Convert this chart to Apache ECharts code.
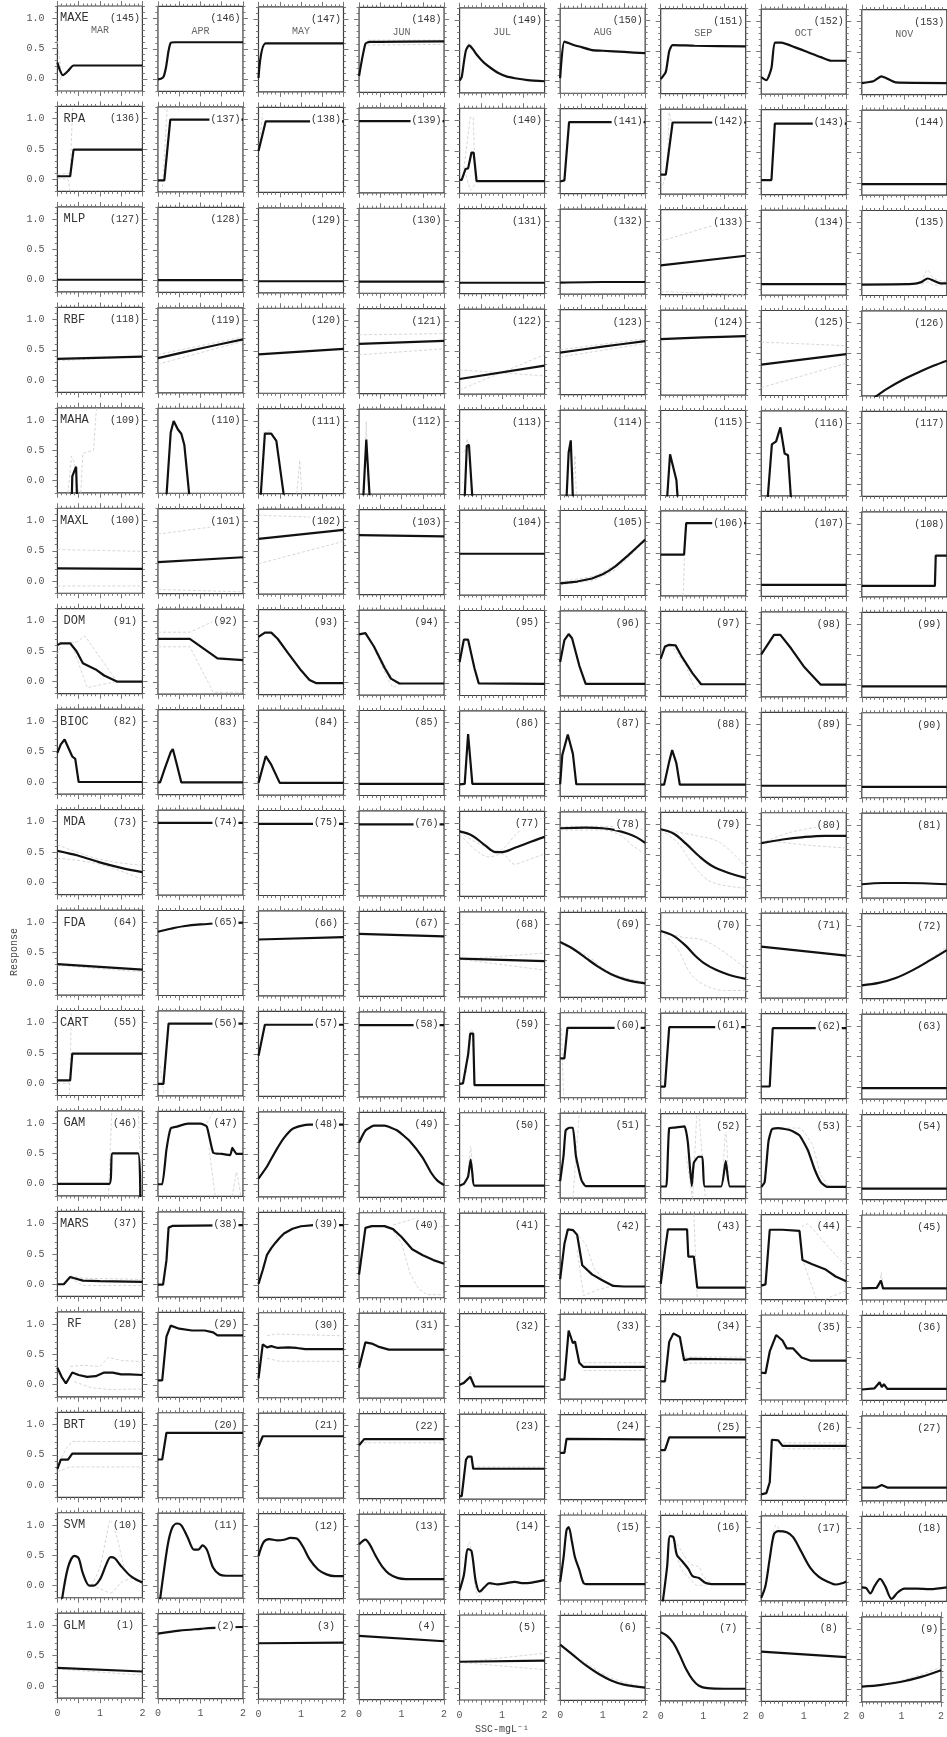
<!DOCTYPE html>
<html>
<head>
<meta charset="utf-8">
<title>Response curves by model and month</title>
<script src="https://cdn.jsdelivr.net/npm/echarts@6/dist/echarts.min.js"></script>
<style>
  html, body { margin: 0; padding: 0; background: #fff; }
  #chart { width: 947px; height: 1737px; }
</style>
</head>
<body>
<div id="chart"></div>
<script>
const MODELS = ['MAXE', 'RPA', 'MLP', 'RBF', 'MAHA', 'MAXL', 'DOM', 'BIOC', 'MDA', 'FDA', 'CART', 'GAM', 'MARS', 'RF', 'BRT', 'SVM', 'GLM']
const MONTHS = ['MAR', 'APR', 'MAY', 'JUN', 'JUL', 'AUG', 'SEP', 'OCT', 'NOV']
const X_TICKS = [0, 0.5, 1, 1.5, 2]
const X_LABELS = [0, 1, 2]
const Y_TICKS = [0, 0.5, 1]

// one curve per month, [SSC, response]
const MAXE = [
  [[0, 0.27], [0.06, 0.14], [0.13, 0.06], [0.25, 0.13], [0.38, 0.22], [2, 0.22]],
  [[0, 0], [0.07, 0.01], [0.13, 0.04], [0.19, 0.2], [0.25, 0.47], [0.3, 0.6], [0.4, 0.61], [2, 0.61]],
  [[0, 0.03], [0.17, 0.6], [2, 0.6]],
  [[0, 0.07], [0.15, 0.6], [0.25, 0.63], [2, 0.64]],
  [[0, 0], [0.05, 0.06], [0.1, 0.3], [0.15, 0.5], [0.22, 0.58], [0.3, 0.53], [0.4, 0.43], [0.5, 0.35], [0.6, 0.28], [0.75, 0.2], [0.9, 0.13], [1.1, 0.07], [1.3, 0.04], [1.6, 0.01], [2, -0.01]],
  [[0, 0.05], [0.1, 0.65], [0.3, 0.6], [0.5, 0.56], [0.75, 0.51], [1, 0.5], [1.5, 0.48], [2, 0.46]],
  [[0, 0.04], [0.12, 0.16], [0.2, 0.5], [0.28, 0.6], [0.8, 0.59], [2, 0.58]],
  [[0, 0.08], [0.12, 0.03], [0.24, 0.23], [0.32, 0.65], [0.47, 0.65], [0.8, 0.57], [1.1, 0.49], [1.4, 0.41], [1.65, 0.35], [2, 0.35]],
  [[0, -0.01], [0.27, 0.02], [0.46, 0.1], [0.58, 0.07], [0.8, 0], [2, -0.01]]
]
const RPA = [
  [[0, 0.05], [0.3, 0.05], [0.38, 0.49], [2, 0.49]],
  [[0, -0.01], [0.15, -0.01], [0.29, 0.99], [2, 0.99]],
  [[0, 0.48], [0.17, 0.97], [2, 0.97]],
  [[0, 0.98], [2, 0.98]],
  [[0, 0.02], [0.05, 0.02], [0.14, 0.2], [0.2, 0.21], [0.28, 0.47], [0.33, 0.47], [0.4, 0], [2, 0]],
  [[0, 0], [0.1, 0.02], [0.21, 0.98], [2, 0.98]],
  [[0, 0.12], [0.12, 0.12], [0.28, 0.98], [2, 0.98]],
  [[0, 0.04], [0.24, 0.04], [0.32, 0.97], [2, 0.97]],
  [[0, -0.02], [2, -0.02]]
]
const MLP = [
  [[0, 0], [2, 0]],
  [[0, 0], [2, 0]],
  [[0, -0.01], [2, -0.01]],
  [[0, -0.01], [2, -0.01]],
  [[0, -0.02], [2, -0.02]],
  [[0, -0.01], [1, 0], [2, 0]],
  [[0, 0.28], [2, 0.44]],
  [[0, -0.02], [2, -0.02]],
  [[0, -0.02], [1.2, -0.01], [1.4, 0.02], [1.55, 0.08], [1.7, 0.04], [1.85, 0], [2, 0]]
]
const RBF = [
  [[0, 0.35], [2, 0.39]],
  [[0, 0.37], [1, 0.53], [2, 0.68]],
  [[0, 0.44], [2, 0.53]],
  [[0, 0.62], [2, 0.67]],
  [[0, 0.05], [2, 0.27]],
  [[0, 0.49], [1, 0.59], [2, 0.68]],
  [[0, 0.72], [1, 0.75], [2, 0.77]],
  [[0, 0.31], [2, 0.48]],
  [[0.25, -0.25], [0.6, -0.08], [1, 0.08], [1.4, 0.21], [1.7, 0.3], [2, 0.38]]
]
const MAHA = [
  [[0.34, -0.25], [0.35, 0.07], [0.44, 0.23], [0.46, -0.25]],
  [[0.2, -0.25], [0.3, 0.8], [0.37, 0.99], [0.47, 0.85], [0.55, 0.78], [0.62, 0.6], [0.74, -0.25]],
  [[0.05, -0.25], [0.15, 0.79], [0.3, 0.79], [0.42, 0.67], [0.6, -0.25]],
  [[0.1, -0.25], [0.17, 0.7], [0.25, -0.25]],
  [[0.12, -0.25], [0.17, 0.6], [0.22, 0.62], [0.3, -0.25]],
  [[0.15, -0.25], [0.2, 0.5], [0.25, 0.7], [0.3, -0.25]],
  [[0.15, -0.25], [0.22, 0.48], [0.37, 0.05], [0.4, -0.25]],
  [[0.15, -0.25], [0.25, 0.65], [0.35, 0.7], [0.45, 0.93], [0.55, 0.5], [0.63, 0.47], [0.7, -0.25]],
  []
]
const MAXL = [
  [[0, 0.21], [2, 0.2]],
  [[0, 0.32], [2, 0.4]],
  [[0, 0.71], [2, 0.86]],
  [[0, 0.78], [2, 0.76]],
  [[0, 0.48], [2, 0.48]],
  [[0, 0], [0.4, 0.03], [0.75, 0.08], [1, 0.15], [1.15, 0.21], [1.3, 0.28], [1.45, 0.37], [1.6, 0.46], [1.8, 0.59], [2, 0.72]],
  [[0, 0.48], [0.55, 0.48], [0.6, 1], [2, 1]],
  [[0, -0.01], [2, -0.01]],
  [[0, -0.02], [1.72, -0.02], [1.74, 0.48], [2, 0.48]]
]
const DOM = [
  [[0, 0.6], [0.08, 0.63], [0.3, 0.63], [0.45, 0.5], [0.6, 0.3], [0.9, 0.2], [1.1, 0.1], [1.4, 0], [2, 0]],
  [[0, 0.71], [0.75, 0.71], [1.4, 0.39], [2, 0.36]],
  [[0, 0.75], [0.15, 0.82], [0.3, 0.82], [0.45, 0.72], [0.7, 0.48], [1, 0.2], [1.2, 0.04], [1.35, -0.01], [2, -0.01]],
  [[0, 0.8], [0.15, 0.82], [0.35, 0.6], [0.6, 0.25], [0.75, 0.07], [0.95, -0.01], [2, -0.01]],
  [[0, 0.35], [0.1, 0.72], [0.2, 0.72], [0.35, 0.25], [0.45, 0], [2, -0.01]],
  [[0, 0.36], [0.1, 0.72], [0.2, 0.82], [0.28, 0.75], [0.45, 0.3], [0.6, 0], [2, 0]],
  [[0, 0.42], [0.1, 0.62], [0.2, 0.65], [0.35, 0.64], [0.5, 0.45], [0.75, 0.18], [0.95, 0], [2, 0]],
  [[0, 0.5], [0.3, 0.82], [0.45, 0.82], [0.7, 0.6], [1, 0.3], [1.4, 0], [2, 0]],
  [[0, -0.02], [2, -0.02]]
]
const BIOC = [
  [[0, 0.48], [0.08, 0.62], [0.17, 0.7], [0.35, 0.42], [0.42, 0.38], [0.5, 0], [2, 0]],
  [[0, 0], [0.05, 0], [0.17, 0.25], [0.3, 0.5], [0.35, 0.55], [0.45, 0.28], [0.55, 0], [2, 0]],
  [[0, 0], [0.17, 0.44], [0.3, 0.3], [0.5, 0], [2, 0]],
  [[0, -0.01], [2, -0.01]],
  [[0, -0.01], [0.12, 0], [0.2, 0.82], [0.3, 0], [2, 0]],
  [[0, 0], [0.05, 0.48], [0.18, 0.82], [0.3, 0.5], [0.38, 0], [2, 0]],
  [[0, 0], [0.08, 0], [0.2, 0.38], [0.27, 0.57], [0.37, 0.35], [0.45, 0], [2, 0]],
  [[0, -0.01], [2, -0.01]],
  [[0, -0.02], [2, -0.02]]
]
const MDA = [
  [[0, 0.52], [0.5, 0.44], [1, 0.33], [1.5, 0.24], [2, 0.17]],
  [[0, 0.99], [2, 0.99]],
  [[0, 0.98], [2, 0.98]],
  [[0, 0.98], [2, 0.98]],
  [[0, 0.87], [0.3, 0.8], [0.6, 0.64], [0.85, 0.53], [1, 0.53], [1.3, 0.6], [1.6, 0.68], [2, 0.78]],
  [[0, 0.93], [0.6, 0.94], [1, 0.93], [1.3, 0.9], [1.6, 0.84], [1.8, 0.78], [2, 0.69]],
  [[0, 0.92], [0.3, 0.85], [0.6, 0.68], [0.9, 0.48], [1.2, 0.32], [1.6, 0.2], [2, 0.12]],
  [[0, 0.7], [0.5, 0.76], [1, 0.8], [1.5, 0.82], [2, 0.82]],
  [[0, 0.03], [0.5, 0.05], [1, 0.05], [2, 0.03]]
]
const FDA = [
  [[0, 0.31], [2, 0.22]],
  [[0, 0.85], [0.3, 0.9], [0.6, 0.94], [1, 0.97], [1.5, 0.99], [2, 1]],
  [[0, 0.73], [2, 0.77]],
  [[0, 0.83], [2, 0.79]],
  [[0, 0.43], [2, 0.39]],
  [[0, 0.71], [0.3, 0.6], [0.6, 0.45], [0.9, 0.3], [1.2, 0.18], [1.5, 0.1], [1.8, 0.05], [2, 0.03]],
  [[0, 0.9], [0.3, 0.82], [0.6, 0.65], [0.8, 0.5], [1, 0.38], [1.3, 0.26], [1.6, 0.18], [2, 0.11]],
  [[0, 0.65], [2, 0.5]],
  [[0, 0.02], [0.4, 0.06], [0.8, 0.14], [1.2, 0.27], [1.6, 0.43], [2, 0.6]]
]
const CART = [
  [[0, 0.05], [0.3, 0.05], [0.35, 0.49], [2, 0.49]],
  [[0, 0], [0.13, 0], [0.25, 0.99], [2, 0.99]],
  [[0, 0.47], [0.15, 0.98], [2, 0.98]],
  [[0, 0.98], [2, 0.98]],
  [[0, 0.02], [0.08, 0.03], [0.2, 0.5], [0.25, 0.85], [0.32, 0.85], [0.35, 0], [2, 0]],
  [[0, 0.45], [0.1, 0.45], [0.17, 0.95], [2, 0.95]],
  [[0, -0.01], [0.1, -0.01], [0.2, 0.97], [2, 0.97]],
  [[0, 0], [0.2, 0], [0.27, 0.96], [2, 0.96]],
  [[0, -0.02], [2, -0.02]]
]
const GAM = [
  [[0, 0], [1.22, 0], [1.3, 0.5], [1.9, 0.5], [1.95, -0.25]],
  [[0, 0], [0.1, 0], [0.2, 0.57], [0.3, 0.92], [0.45, 0.95], [0.7, 1], [1, 1], [1.15, 0.95], [1.3, 0.52], [1.5, 0.5], [1.7, 0.48], [1.75, 0.6], [1.85, 0.5], [2, 0.5]],
  [[0, 0.1], [0.2, 0.3], [0.4, 0.55], [0.6, 0.77], [0.8, 0.92], [1, 0.97], [1.2, 0.99], [2, 0.99]],
  [[0, 0.7], [0.15, 0.9], [0.35, 0.98], [0.6, 0.98], [0.9, 0.9], [1.2, 0.72], [1.5, 0.45], [1.7, 0.2], [1.85, 0.07], [2, 0]],
  [[0, 0], [0.1, 0.03], [0.2, 0.15], [0.26, 0.43], [0.3, 0.2], [0.35, 0], [2, 0]],
  [[0, 0.08], [0.08, 0.5], [0.13, 0.92], [0.22, 0.96], [0.3, 0.96], [0.37, 0.5], [0.5, 0.1], [0.6, 0], [2, 0]],
  [[0, 0], [0.13, 0], [0.2, 0.96], [0.34, 0.97], [0.56, 0.99], [0.64, 0.72], [0.73, 0.01], [0.78, 0.39], [0.89, 0.49], [0.98, 0.49], [1.04, 0], [1.42, 0], [1.53, 0.42], [1.63, 0], [2, 0]],
  [[0, 0], [0.08, 0.08], [0.17, 0.75], [0.25, 0.95], [0.4, 0.97], [0.7, 0.93], [0.9, 0.85], [1.1, 0.6], [1.25, 0.3], [1.4, 0.08], [1.55, 0], [2, 0]],
  [[0, -0.02], [2, -0.02]]
]
const MARS = [
  [[0, 0], [0.15, 0], [0.3, 0.12], [0.4, 0.1], [0.6, 0.06], [1, 0.05], [2, 0.04]],
  [[0, 0], [0.12, 0], [0.2, 0.4], [0.25, 0.94], [0.35, 0.97], [2, 0.98]],
  [[0, 0.02], [0.1, 0.25], [0.2, 0.5], [0.3, 0.61], [0.4, 0.7], [0.5, 0.78], [0.6, 0.85], [0.8, 0.93], [1, 0.97], [1.3, 0.99], [2, 0.99]],
  [[0, 0.18], [0.15, 0.95], [0.3, 0.98], [0.6, 0.98], [0.8, 0.93], [1, 0.8], [1.25, 0.6], [1.5, 0.5], [1.75, 0.42], [2, 0.36]],
  [[0, 0], [2, 0]],
  [[0, 0.12], [0.1, 0.7], [0.18, 0.94], [0.3, 0.93], [0.4, 0.85], [0.52, 0.35], [0.75, 0.2], [1, 0.1], [1.25, 0.01], [1.5, 0], [2, 0]],
  [[0, 0.05], [0.1, 0.6], [0.17, 0.95], [0.45, 0.95], [0.62, 0.95], [0.65, 0.5], [0.78, 0.5], [0.86, -0.01], [2, -0.01]],
  [[0, 0.03], [0.1, 0.05], [0.2, 0.95], [0.5, 0.95], [0.9, 0.93], [0.97, 0.45], [1.2, 0.38], [1.5, 0.3], [1.75, 0.18], [2, 0.1]],
  [[0, -0.01], [0.35, 0], [0.45, 0.12], [0.5, -0.01], [2, -0.01]]
]
const RF = [
  [[0, 0.28], [0.1, 0.13], [0.2, 0.02], [0.35, 0.2], [0.5, 0.16], [0.7, 0.13], [0.9, 0.14], [1.1, 0.2], [1.3, 0.2], [1.5, 0.17], [1.7, 0.17], [2, 0.16]],
  [[0, 0.08], [0.1, 0.08], [0.2, 0.8], [0.3, 0.98], [0.5, 0.93], [0.8, 0.9], [1.1, 0.9], [1.3, 0.87], [1.4, 0.82], [2, 0.82]],
  [[0, 0.12], [0.1, 0.68], [0.2, 0.63], [0.3, 0.65], [0.45, 0.62], [0.7, 0.63], [0.9, 0.62], [1.1, 0.6], [2, 0.6]],
  [[0, 0.3], [0.15, 0.72], [0.3, 0.7], [0.45, 0.65], [0.7, 0.6], [2, 0.6]],
  [[0, 0.03], [0.1, 0.06], [0.25, 0.16], [0.35, 0], [2, 0]],
  [[0, 0.12], [0.1, 0.12], [0.2, 0.93], [0.3, 0.72], [0.35, 0.75], [0.45, 0.4], [0.55, 0.33], [2, 0.33]],
  [[0, 0.1], [0.1, 0.1], [0.2, 0.75], [0.3, 0.89], [0.45, 0.83], [0.55, 0.45], [0.7, 0.47], [2, 0.46]],
  [[0, 0.25], [0.1, 0.24], [0.2, 0.6], [0.35, 0.87], [0.5, 0.78], [0.6, 0.65], [0.75, 0.65], [0.95, 0.5], [1.15, 0.45], [2, 0.45]],
  [[0, -0.02], [0.3, 0], [0.42, 0.1], [0.47, 0.02], [0.52, 0.07], [0.6, -0.01], [2, -0.01]]
]
const BRT = [
  [[0, 0.27], [0.08, 0.42], [0.25, 0.42], [0.35, 0.52], [2, 0.52]],
  [[0, 0.43], [0.1, 0.43], [0.2, 0.87], [2, 0.87]],
  [[0, 0.65], [0.1, 0.82], [2, 0.82]],
  [[0, 0.68], [0.12, 0.78], [2, 0.78]],
  [[0, -0.15], [0.05, -0.15], [0.15, 0.45], [0.2, 0.5], [0.28, 0.5], [0.32, 0.3], [2, 0.3]],
  [[0, 0.57], [0.1, 0.57], [0.15, 0.8], [2, 0.79]],
  [[0, 0.62], [0.1, 0.62], [0.2, 0.83], [2, 0.83]],
  [[0, -0.1], [0.12, -0.08], [0.2, 0.1], [0.25, 0.8], [0.4, 0.79], [0.5, 0.7], [2, 0.7]],
  [[0, 0.02], [0.35, 0.02], [0.47, 0.06], [0.6, 0.02], [2, 0.02]]
]
const SVM = [
  [[0.1, -0.27], [0.25, 0.3], [0.4, 0.49], [0.5, 0.45], [0.6, 0.2], [0.75, 0], [0.85, 0], [1, 0.1], [1.15, 0.35], [1.25, 0.47], [1.35, 0.45], [1.5, 0.32], [1.7, 0.17], [1.85, 0.1], [2, 0.05]],
  [[0.04, -0.27], [0.15, 0.3], [0.25, 0.75], [0.35, 0.98], [0.45, 1.03], [0.55, 1], [0.7, 0.8], [0.85, 0.6], [0.95, 0.6], [1.05, 0.67], [1.15, 0.6], [1.3, 0.3], [1.45, 0.19], [1.6, 0.17], [2, 0.17]],
  [[0, 0.5], [0.12, 0.73], [0.25, 0.78], [0.45, 0.76], [0.6, 0.77], [0.75, 0.8], [0.9, 0.79], [1.05, 0.65], [1.2, 0.45], [1.4, 0.28], [1.6, 0.2], [1.8, 0.17], [2, 0.17]],
  [[0, 0.7], [0.15, 0.78], [0.25, 0.7], [0.4, 0.5], [0.55, 0.33], [0.7, 0.22], [0.9, 0.15], [1.1, 0.13], [2, 0.13]],
  [[0, -0.05], [0.1, 0.2], [0.2, 0.63], [0.28, 0.6], [0.38, 0.1], [0.47, -0.07], [0.58, 0], [0.7, 0.07], [0.9, 0.05], [1.1, 0.07], [1.3, 0.09], [1.5, 0.07], [1.7, 0.08], [2, 0.12]],
  [[0, 0.1], [0.08, 0.5], [0.15, 0.95], [0.2, 1], [0.28, 0.75], [0.35, 0.5], [0.45, 0.3], [0.55, 0.08], [0.65, 0.06], [2, 0.06]],
  [[0.04, -0.27], [0.15, 0.35], [0.22, 0.86], [0.3, 0.84], [0.38, 0.55], [0.5, 0.45], [0.65, 0.32], [0.75, 0.2], [0.9, 0.17], [1.05, 0.09], [1.2, 0.07], [2, 0.07]],
  [[0, -0.15], [0.1, 0.05], [0.2, 0.5], [0.3, 0.9], [0.4, 0.95], [0.6, 0.93], [0.75, 0.85], [0.95, 0.6], [1.15, 0.35], [1.35, 0.2], [1.55, 0.12], [1.75, 0.07], [1.9, 0.09], [2, 0.12]],
  [[0, 0.03], [0.1, 0.02], [0.2, -0.07], [0.3, 0.05], [0.43, 0.17], [0.55, 0.05], [0.7, -0.16], [0.85, -0.05], [1, 0.01], [1.3, 0.01], [1.6, 0], [2, 0.03]]
]
const GLM = [
  [[0, 0.3], [2, 0.24]],
  [[0, 0.87], [0.5, 0.92], [1, 0.95], [1.4, 0.97], [2, 0.98]],
  [[0, 0.72], [2, 0.73]],
  [[0, 0.85], [2, 0.76]],
  [[0, 0.43], [2, 0.45]],
  [[0, 0.72], [0.3, 0.55], [0.6, 0.38], [0.9, 0.24], [1.2, 0.13], [1.5, 0.06], [2, 0.01]],
  [[0, 0.93], [0.15, 0.87], [0.3, 0.75], [0.45, 0.55], [0.6, 0.32], [0.75, 0.15], [0.9, 0.05], [1.1, 0.01], [1.5, 0], [2, 0]],
  [[0, 0.62], [2, 0.53]],
  [[0, 0.05], [0.5, 0.08], [1, 0.13], [1.5, 0.21], [2, 0.32]]
]

// dotted uncertainty traces, per month a list of curves
const MAXE_CI = [[[[0, 0.62], [0.1, 0.02]], [[0, -0.1], [0.1, 0.05]]], [], [], [[[0.2, 0.58], [2, 0.59]], [[0.2, 0.66], [2, 0.66]]], [[[0.1, 0.35], [0.22, 0.63], [0.4, 0.45]]], [], [], [], []]
const RPA_CI = [
  [[[0, 0.08], [0.3, 0.1], [0.36, 1.2]], [[0, 0.02], [0.25, 0], [0.3, -0.2]]],
  [[[0.1, -0.2], [0.22, 1.2]]],
  [[[0, 0.5], [0.1, 1.1]]],
  [],
  [[[0.1, 0.2], [0.25, 1.05], [0.32, 1.05], [0.37, 0]], [[0.15, 0.1], [0.25, -0.15], [0.32, -0.1], [0.4, 0]]],
  [],
  [[[0.05, -0.05], [0.15, 0.2], [0.2, 1.15], [0.25, 1]]],
  [], []
]
const MLP_CI = [[], [], [], [], [], [], [[[0, 0.68], [2, 1.1]], [[0, -0.15], [2, -0.2]]], [],
  [[[1.4, 0.02], [1.55, 0.22], [1.7, 0.08], [2, 0.02]], [[1.4, -0.02], [1.55, 0.02], [1.7, -0.03], [2, -0.02]]]]
const RBF_CI = [
  [[[0, 0.32], [2, 0.39]]],
  [[[0, 0.43], [2, 0.72]], [[0, 0.27], [2, 0.65]]],
  [],
  [[[0, 0.77], [2, 0.79]], [[0, 0.44], [2, 0.54]]],
  [[[0, -0.13], [2, 0.45]], [[0, 0.2], [2, 0.1]]],
  [[[0, 0.54], [2, 0.72]], [[0, 0.42], [2, 0.64]]],
  [],
  [[[0, 0.68], [2, 0.62]], [[0, -0.07], [2, 0.33]]],
  []
]
const MAHA_CI = [
  [[[0.25, -0.2], [0.33, 0.4], [0.4, 0.3], [0.5, -0.2]], [[0.55, -0.2], [0.6, 0.45], [0.85, 0.5], [0.92, 1.2]]],
  [],
  [[[0.9, -0.2], [0.97, 0.35], [1.02, -0.2]], [[0.1, 0.8], [0.3, 0.85]]],
  [[[0.12, -0.2], [0.17, 1], [0.22, -0.2]]],
  [[[0.12, 0.5], [0.18, 0.72], [0.24, 0.5]]],
  [[[0.28, -0.2], [0.35, 0.45], [0.38, -0.2]]],
  [], [], []
]
const MAXL_CI = [
  [[[0, 0.52], [2, 0.49]], [[0, -0.08], [2, -0.08]]],
  [[[0, 0.78], [2, 0.97]], [[0, -0.13], [2, -0.17]]],
  [[[0, 1.1], [2, 1.05]], [[0, 0.3], [2, 0.67]]],
  [], [],
  [[[0, 0.02], [0.8, 0.12], [1.3, 0.3], [2, 0.72]], [[0, -0.02], [0.8, 0.05], [1.3, 0.22], [2, 0.7]]],
  [[[0.53, -0.2], [0.58, 0.9]]],
  [], []
]
const DOM_CI = [
  [[[0, 0.45], [0.1, 0.62], [0.45, 0.65], [0.65, 0.75], [1, 0.4], [1.4, 0]], [[0.4, 0.5], [0.7, -0.1], [1.4, 0]]],
  [[[0, 0.82], [0.75, 0.82], [1.3, 1]], [[0, 0.58], [0.75, 0.58], [1.3, -0.17], [2, -0.17]]],
  [],
  [[[0.3, 0.65], [0.6, 0.3], [0.8, 0.05], [1, -0.03]], [[0.4, 0.5], [0.65, 0.1], [0.8, -0.08], [1, 0]]],
  [], [],
  [[[0.3, 0.6], [0.6, 0.3], [0.8, -0.08], [0.95, 0]]],
  [], []
]
const BIOC_CI = [[], [], [], [], [], [], [], [], []]
const MDA_CI = [
  [[[0, 0.62], [1, 0.38], [2, 0.28]], [[0, 0.4], [1, 0.3], [2, 0.05]]],
  [], [], [],
  [[[0, 0.85], [0.5, 0.65], [0.9, 0.55], [1.3, 0.8], [1.6, 1], [2, 1.1]], [[0, 0.82], [0.4, 0.55], [0.7, 0.45], [1, 0.5], [1.3, 0.33], [1.6, 0.4], [2, 0.5]]],
  [[[0, 0.96], [1, 0.96], [1.5, 0.95], [2, 0.9]], [[0, 0.9], [1, 0.9], [1.4, 0.82], [1.7, 0.65], [2, 0.5]]],
  [[[0, 0.92], [0.8, 0.82], [1.4, 0.7], [2, 0.3]], [[0, 0.9], [0.4, 0.7], [0.8, 0.3], [1.2, 0.05], [2, -0.05]]],
  [[[0, 0.7], [0.7, 0.88], [1.5, 0.98]], [[0.4, 0.72], [1.2, 0.66], [2, 0.62]]],
  []
]
const FDA_CI = [
  [[[0, 0.29], [2, 0.18]]],
  [], [], [],
  [[[0, 0.42], [2, 0.52]], [[0, 0.42], [2, 0.24]]],
  [[[0, 0.68], [0.6, 0.5], [1.2, 0.2], [2, 0.05]]],
  [[[0, 0.9], [0.5, 0.8], [1, 0.75], [1.5, 0.55], [2, 0.28]], [[0, 0.9], [0.4, 0.6], [0.7, 0.2], [1, 0.02], [1.5, -0.08], [2, -0.08]]],
  [],
  [[[0, 0], [1, 0.2], [2, 0.65]]]
]
const CART_CI = [
  [[[0.28, -0.2], [0.33, 1.15]], [[0, 0], [0.28, 0]]],
  [[[0.05, 0.3], [0.15, -0.2]]],
  [], [],
  [[[0.15, 0.2], [0.25, 0.92], [0.3, 0.9], [0.35, 0]]],
  [[[0.03, 0.95], [0.08, -0.15]]],
  [], [], []
]
const GAM_CI = [
  [[[1.2, -0.2], [1.28, 1.2]], [[1.9, 1.2], [1.95, 0.5]]],
  [[[1.15, 1], [1.3, 1.2]], [[1.2, 0.6], [1.35, -0.2]], [[1.75, -0.2], [1.85, 0.2], [1.95, -0.2]]],
  [], [],
  [[[0.2, 0.2], [0.26, 0.65], [0.32, 0.1]]],
  [[[0.3, -0.2], [0.45, 1.2]]],
  [[[0.6, 0.5], [0.75, -0.2]], [[0.75, -0.2], [0.85, 1.2]], [[0.9, 1.2], [1.05, -0.2]], [[1.45, 0], [1.53, 1], [1.6, 0]]],
  [[[0.5, 0.97], [0.9, 0.97], [1.2, 0.7], [1.4, 0.2], [1.6, 0]]],
  []
]
const MARS_CI = [
  [[[0.3, 0.14], [0.6, 0.1], [2, 0.08]], [[0.3, 0.1], [0.6, -0.02], [2, -0.02]]],
  [], [],
  [[[0.8, 1], [1.3, 1.1], [1.7, 1.07], [2, 0.95]], [[0.8, 0.9], [1, 0.7], [1.2, 0.2], [1.4, -0.05], [1.6, -0.15], [2, -0.15]]],
  [],
  [[[0.3, 0.95], [0.6, 0.7], [0.8, 0.3], [1.1, 0.05]], [[0.4, 0.6], [0.55, -0.15], [0.9, -0.05], [1.2, 0]]],
  [[[0.78, 1.2], [0.82, 0.5], [0.86, -0.2]]],
  [[[0.95, 1], [1.1, 1.05], [1.6, 0.65], [2, 0.35]], [[1, 0.4], [1.3, -0.2]], [[1.5, -0.2], [2, -0.05]]],
  [[[0.4, 0], [0.46, 0.25], [0.5, 0]]]
]
const RF_CI = [
  [[[0.3, 0.3], [0.6, 0.32], [1, 0.3], [1.2, 0.45], [1.5, 0.4], [2, 0.38]], [[0.4, 0.05], [0.8, -0.05], [1.2, -0.08], [2, -0.07]]],
  [],
  [[[0.2, 0.82], [0.4, 0.85], [2, 0.82]], [[0.2, 0.45], [0.5, 0.4], [2, 0.4]]],
  [],
  [[[0.2, 0.1], [0.25, 0.25], [0.32, 0.05]]],
  [[[0.55, 0.4], [2, 0.4]], [[0.55, 0.27], [2, 0.27]]],
  [[[0.55, 0.5], [2, 0.5]], [[0.55, 0.4], [2, 0.4]]],
  [], []
]
const BRT_CI = [
  [[[0, 0.3], [0.2, 0.6], [0.35, 0.72], [2, 0.72]], [[0, 0.22], [0.3, 0.3], [2, 0.3]]],
  [], [],
  [[[0.1, 0.72], [2, 0.72]]],
  [[[0.3, 0.33], [2, 0.33]]],
  [],
  [[[0, 0.55], [0.1, 0.65], [0.2, 0.85]]],
  [[[0.4, 0.75], [2, 0.75]], [[0.5, 0.65], [2, 0.65]]],
  []
]
const SVM_CI = [
  [[[0.8, 0], [1, 0.3], [1.15, 0.8], [1.25, 1.08], [1.4, 0.8], [1.6, 0.25], [1.8, 0.1], [2, 0.05]], [[0.8, 0], [1, -0.05], [1.25, -0.12], [1.5, 0.05], [1.8, 0.12], [2, 0.08]]],
  [], [], [],
  [[[0.15, 0.5], [0.22, 0.75], [0.3, 0.5]], [[0.35, 0.1], [0.45, -0.15], [0.55, -0.05]]],
  [],
  [[[0.2, 0.95], [0.5, 0.6], [0.7, 0.4], [0.9, 0.35], [1, 0.2], [1.2, 0.08]], [[0.3, 0.7], [0.5, 0.3], [0.7, 0.15], [0.85, 0.05], [1, 0.05], [1.2, 0.07]]],
  [[[0.25, 0.85], [0.35, 1.05], [0.45, 0.95]]],
  []
]
const GLM_CI = [
  [[[0, 0.28], [2, 0.18]]],
  [], [], [],
  [[[0, 0.42], [2, 0.57]], [[0, 0.42], [2, 0.3]]],
  [[[0, 0.7], [0.6, 0.42], [1.2, 0.17], [2, 0.02]]],
  [], [],
  [[[0, 0.05], [1, 0.15], [2, 0.37]]]
]

const CURVES = [MAXE, RPA, MLP, RBF, MAHA, MAXL, DOM, BIOC, MDA, FDA, CART, GAM, MARS, RF, BRT, SVM, GLM]
const BANDS = [MAXE_CI, RPA_CI, MLP_CI, RBF_CI, MAHA_CI, MAXL_CI, DOM_CI, BIOC_CI, MDA_CI, FDA_CI, CART_CI, GAM_CI, MARS_CI, RF_CI, BRT_CI, SVM_CI, GLM_CI]
const SMOOTH = { MAXE: 0.2, MLP: 0.3, RBF: 0.3, MDA: 0.35, FDA: 0.35, GAM: 0.15, SVM: 0.3, GLM: 0.35 }

const FONT = '"Liberation Mono", "DejaVu Sans Mono", monospace'
const TICK = { color: '#777', width: 1 }
const PANEL = 85

const chart = echarts.init(document.getElementById('chart'), null, { renderer: 'canvas' })

const grid = []
const xAxis = []
const yAxis = []
const series = []
const graphic = []

function xAx(k, position, major, withLabels) {
  return {
    type: 'value', gridIndex: k, min: 0, max: 2, position,
    interval: major ? undefined : 0.1,
    axisLine: { show: false, onZero: false },
    splitLine: { show: false },
    axisTick: major
      ? { show: true, length: 5, customValues: X_TICKS, lineStyle: TICK }
      : { show: true, length: 2.5, lineStyle: TICK },
    axisLabel: withLabels
      ? { show: true, customValues: X_LABELS, margin: 10, fontFamily: FONT, fontSize: 10, color: '#555', formatter: (v) => String(v) }
      : { show: false }
  }
}

function yAx(k, position, major, withLabels) {
  return {
    type: 'value', gridIndex: k, min: -0.2, max: 1.2, position,
    interval: major ? undefined : 0.1,
    axisLine: { show: false, onZero: false },
    splitLine: { show: false },
    axisTick: major
      ? { show: true, length: 5, customValues: Y_TICKS, lineStyle: TICK }
      : { show: true, length: 2.5, lineStyle: TICK },
    axisLabel: withLabels
      ? { show: true, customValues: Y_TICKS, margin: 13, fontFamily: FONT, fontSize: 10, color: '#555', formatter: (v) => v.toFixed(1) }
      : { show: false }
  }
}

MODELS.forEach((model, r) => {
  MONTHS.forEach((month, c) => {
    const k = grid.length
    const left = 57.4 + c * 100.55
    const top = 6 + r * 100.45 + c * 0.45
    grid.push({ left, top, width: PANEL, height: PANEL, show: true, borderColor: '#3c3c3c', borderWidth: 1.2, backgroundColor: '#fff' })

    const xi = xAxis.length
    xAxis.push(xAx(k, 'bottom', true, r === MODELS.length - 1), xAx(k, 'bottom', false, false), xAx(k, 'top', true, false), xAx(k, 'top', false, false))
    const yi = yAxis.length
    yAxis.push(yAx(k, 'left', true, c === 0), yAx(k, 'left', false, false), yAx(k, 'right', true, false), yAx(k, 'right', false, false))

    const smooth = SMOOTH[model] || false
    BANDS[r][c].forEach((band) => {
      series.push({
        type: 'line', xAxisIndex: xi, yAxisIndex: yi, data: band, smooth,
        showSymbol: false, silent: true, z: 2,
        lineStyle: { color: '#cdcdcd', width: 0.8, type: [3, 2] }
      })
    })
    if (CURVES[r][c].length) {
      series.push({
        type: 'line', xAxisIndex: xi, yAxisIndex: yi, data: CURVES[r][c], smooth,
        showSymbol: false, silent: true, z: 3,
        lineStyle: { color: '#111', width: 2.2 }
      })
    }

    const n = (MODELS.length - 1 - r) * MONTHS.length + c + 1
    if (c === 0) {
      graphic.push({ type: 'text', x: left + 17, y: top + 12.3, z: 100, silent: true,
        style: { text: model, font: '12px ' + FONT, fill: '#333', align: 'center', verticalAlign: 'middle' } })
    }
    graphic.push({ type: 'text', x: left + 67.5, y: top + 12.3, z: 100, silent: true,
      style: { text: '(' + n + ')', font: '10px ' + FONT, fill: '#333', align: 'center', verticalAlign: 'middle', backgroundColor: '#fff', padding: [1, 1] } })
    if (r === 0) {
      graphic.push({ type: 'text', x: left + 42.5, y: top + 24.6, z: 100, silent: true,
        style: { text: month, font: '10px ' + FONT, fill: '#666', align: 'center', verticalAlign: 'middle' } })
    }
  })
})

graphic.push({ type: 'text', x: 14, y: 952, rotation: Math.PI / 2, z: 100, silent: true,
  style: { text: 'Response', font: '10px ' + FONT, fill: '#444', align: 'center', verticalAlign: 'middle' } })
graphic.push({ type: 'text', x: 502, y: 1729, z: 100, silent: true,
  style: { text: 'SSC-mgL⁻¹', font: '10px ' + FONT, fill: '#444', align: 'center', verticalAlign: 'middle' } })

chart.setOption({
  animation: false,
  backgroundColor: '#fff',
  grid, xAxis, yAxis, series, graphic
})
</script>
</body>
</html>
